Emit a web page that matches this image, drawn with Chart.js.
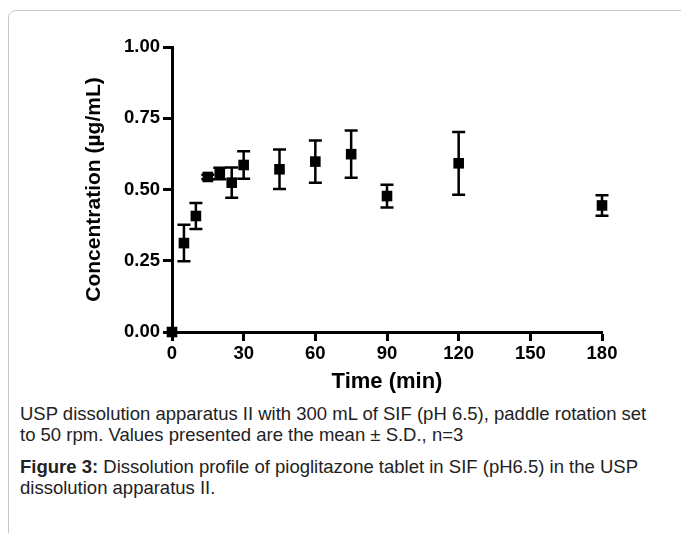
<!DOCTYPE html>
<html>
<head>
<meta charset="utf-8">
<script src="https://cdn.jsdelivr.net/npm/chart.js@4.4.1/dist/chart.umd.min.js"></script>
<style>
  body { margin: 0; background: #fff; width: 681px; height: 533px; overflow: hidden; position: relative; }
  #card { position: absolute; left: 8px; top: 10px; width: 720px; height: 600px; border: 1px solid #c8c8c8; border-radius: 8px 0 0 0; }
  #chartBox { position: absolute; left: 0; top: 0; width: 681px; height: 400px; }
  .cap { position: absolute; left: 20px; width: 645px; font-family: "Liberation Sans", Arial, sans-serif; font-size: 18.5px; line-height: 21px; color: #222; }
  #note { top: 403px; }
  #fig { top: 456px; }
</style>
</head>
<body>
<div id="card"></div>
<div id="chartBox"><canvas id="chart" width="681" height="400"></canvas></div>
<div class="cap" id="note">USP dissolution apparatus II with 300 mL of SIF (pH 6.5), paddle rotation set to 50 rpm. Values presented are the mean ± S.D., n=3</div>
<div class="cap" id="fig"><b>Figure 3:</b> Dissolution profile of pioglitazone tablet in SIF (pH6.5) in the USP dissolution apparatus II.</div>
<script>
// sampling times (min), mean concentration and S.D.
const times = [0, 5, 10, 15, 20, 25, 30, 45, 60, 75, 90, 120, 180];
const means = [0, 0.312, 0.407, 0.544, 0.556, 0.524, 0.586, 0.571, 0.598, 0.624, 0.477, 0.592, 0.444];
const sds = [0, 0.064, 0.046, 0.008, 0.02, 0.053, 0.048, 0.069, 0.074, 0.083, 0.04, 0.11, 0.036];

const xTickValues = [0, 30, 60, 90, 120, 150, 180];
const yTickValues = [0, 0.25, 0.5, 0.75, 1.0];

const FONT = '"Liberation Sans", Arial, sans-serif';

// draws the mean ± S.D. bars with caps
const errorBars = {
  id: 'errorBars',
  afterDatasetsDraw(chart) {
    const { ctx } = chart;
    const xs = chart.scales.x;
    const ys = chart.scales.y;
    ctx.save();
    ctx.strokeStyle = '#000';
    ctx.lineWidth = 2.5;
    for (let i = 0; i < times.length; i++) {
      if (!sds[i]) continue;
      const x = xs.getPixelForValue(times[i]);
      const top = ys.getPixelForValue(means[i] + sds[i]);
      const bot = ys.getPixelForValue(means[i] - sds[i]);
      const half = 6.5;
      ctx.beginPath();
      ctx.moveTo(x, top);
      ctx.lineTo(x, bot);
      ctx.moveTo(x - half, top);
      ctx.lineTo(x + half, top);
      ctx.moveTo(x - half, bot);
      ctx.lineTo(x + half, bot);
      ctx.stroke();
    }
    ctx.restore();
  },
};

const points = times.map((t, i) => ({ x: t, y: means[i] }));

new Chart(document.getElementById('chart'), {
  type: 'scatter',
  data: {
    datasets: [{
      data: points,
      pointStyle: 'rect',
      pointRadius: 7.5,
      pointHoverRadius: 7.5,
      backgroundColor: '#000',
      borderColor: '#000',
      borderWidth: 0,
      clip: false,
    }],
  },
  options: {
    responsive: false,
    animation: false,
    events: [],
    layout: { padding: { left: 78, top: 47, right: 79, bottom: 2 } },
    plugins: { legend: { display: false }, tooltip: { enabled: false } },
    scales: {
      x: {
        type: 'linear',
        min: 0,
        max: 180,
        afterBuildTicks: (scale) => { scale.ticks = xTickValues.map((v) => ({ value: v })); },
        afterFit: (scale) => { scale.height = 66; },
        border: { display: true, width: 3, color: '#000' },
        grid: { drawOnChartArea: false, drawTicks: true, tickLength: 9, tickWidth: 3, tickColor: '#000' },
        ticks: { color: '#000', padding: 2, maxRotation: 0, font: { family: FONT, size: 18.5, weight: 'bold' } },
        title: { display: true, text: 'Time (min)', color: '#000', padding: { top: 2, bottom: 3 }, font: { family: FONT, size: 22, weight: 'bold' } },
      },
      y: {
        type: 'linear',
        min: 0,
        max: 1,
        afterBuildTicks: (scale) => { scale.ticks = yTickValues.map((v) => ({ value: v })); },
        afterFit: (scale) => { scale.width = 94; },
        border: { display: true, width: 3, color: '#000' },
        grid: { drawOnChartArea: false, drawTicks: true, tickLength: 9, tickWidth: 3, tickColor: '#000' },
        ticks: { color: '#000', padding: 3, font: { family: FONT, size: 18.5, weight: 'bold' }, callback: (v) => v.toFixed(2) },
        title: { display: true, text: 'Concentration (\u00b5g/mL)', color: '#000', padding: { top: 4, bottom: 4 }, font: { family: FONT, size: 21, weight: 'bold' } },
      },
    },
  },
  plugins: [errorBars],
});
</script>
</body>
</html>
